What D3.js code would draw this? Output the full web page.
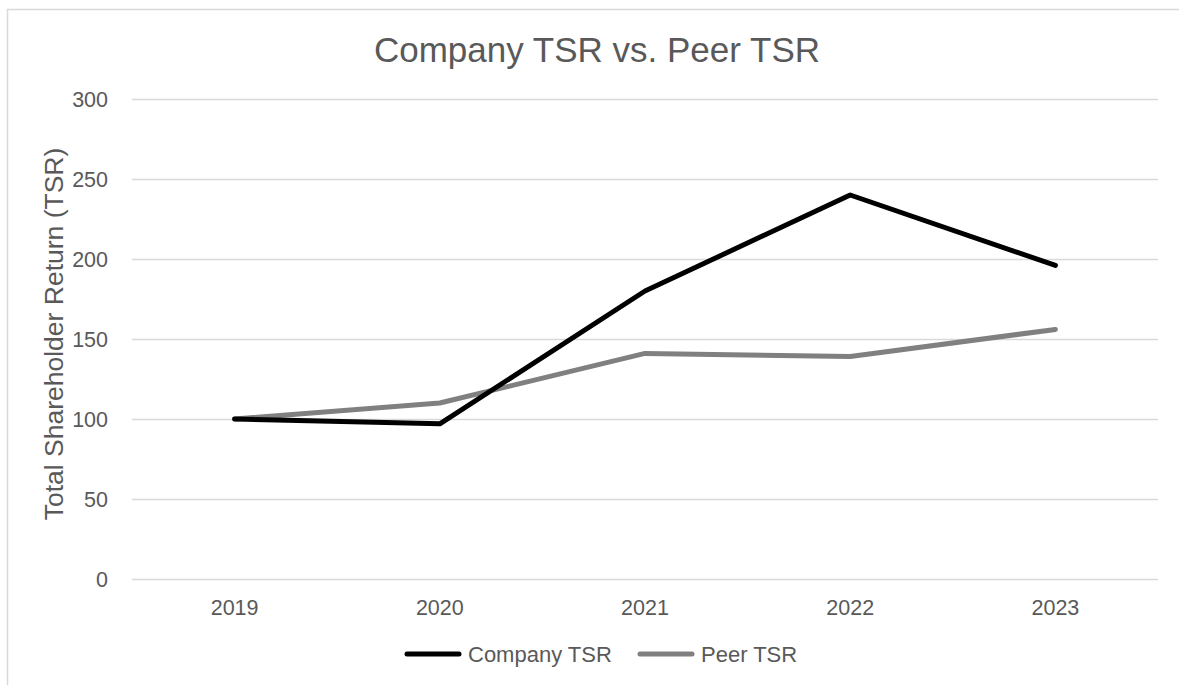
<!DOCTYPE html>
<html>
<head>
<meta charset="utf-8">
<script src="https://cdn.jsdelivr.net/npm/d3@7"></script>
<style>
  body { margin: 0; background: #fff; }
  text { font-family: "Liberation Sans", Arial, sans-serif; fill: #595959; }
</style>
</head>
<body>
<div class="chart"></div>
<script>
var years = ["2019", "2020", "2021", "2022", "2023"];
var companyTSR = [100, 97, 180, 240, 196];
var peerTSR = [100, 110, 141, 139, 156];
var yTicks = [0, 50, 100, 150, 200, 250, 300];

var width = 1179,
    height = 685;

var margin = {top: 99, right: 21, bottom: 106, left: 132};

var svg = d3.select(".chart").append("svg")
    .attr("width", width)
    .attr("height", height);

// outer chart border (cropped on right/bottom like the reference)
svg.append("rect")
    .attr("x", 7.5).attr("y", 9.5)
    .attr("width", 1200).attr("height", 700)
    .attr("fill", "none")
    .attr("stroke", "#d9d9d9")
    .attr("stroke-width", 1.5);

var x = d3.scaleBand()
    .domain(years)
    .range([margin.left, width - margin.right]);

var y = d3.scaleLinear()
    .domain([0, 300])
    .range([height - margin.bottom, margin.top]);

// gridlines
svg.append("g")
    .attr("transform", "translate(" + margin.left + ",0)")
    .call(d3.axisLeft(y).tickValues(yTicks)
        .tickSize(-(width - margin.left - margin.right))
        .tickFormat(""))
    .call(function(g) {
      g.select(".domain").remove();
      g.selectAll("line").attr("stroke", "#d9d9d9").attr("stroke-width", 1.3);
    });

// y tick labels
svg.append("g")
    .attr("transform", "translate(" + (margin.left - 21) + ",0)")
    .call(d3.axisLeft(y).tickValues(yTicks).tickSize(0))
    .call(function(g) {
      g.select(".domain").remove();
      g.selectAll("text").attr("font-size", "21.5px").attr("dy", "0.35em");
    });

// x tick labels
svg.append("g")
    .attr("transform", "translate(0," + (height - margin.bottom) + ")")
    .call(d3.axisBottom(x).tickSize(0))
    .call(function(g) {
      g.select(".domain").remove();
      g.selectAll("text").attr("font-size", "21.5px").attr("y", 36).attr("dy", 0);
    });

var line = d3.line()
    .x(function(d, i) { return x(years[i]) + x.bandwidth() / 2; })
    .y(function(d) { return y(d); });

svg.append("path")
    .datum(peerTSR)
    .attr("d", line)
    .attr("fill", "none")
    .attr("stroke", "#808080")
    .attr("stroke-width", 5)
    .attr("stroke-linejoin", "round")
    .attr("stroke-linecap", "round");

svg.append("path")
    .datum(companyTSR)
    .attr("d", line)
    .attr("fill", "none")
    .attr("stroke", "#000000")
    .attr("stroke-width", 5)
    .attr("stroke-linejoin", "round")
    .attr("stroke-linecap", "round");

// title
svg.append("text")
    .attr("x", 597).attr("y", 62)
    .attr("text-anchor", "middle")
    .attr("font-size", "35px")
    .text("Company TSR vs. Peer TSR");

// y axis label
svg.append("text")
    .attr("transform", "translate(63,334) rotate(-90)")
    .attr("text-anchor", "middle")
    .attr("font-size", "26.5px")
    .text("Total Shareholder Return (TSR)");

// legend
var legendItems = [
  {name: "Company TSR", color: "#000000", x: 407},
  {name: "Peer TSR", color: "#808080", x: 640}
];
var lg = svg.selectAll(".legend")
    .data(legendItems)
    .enter().append("g")
    .attr("class", "legend")
    .attr("transform", function(d) { return "translate(" + d.x + ",654)"; });

lg.append("line")
    .attr("x1", 0).attr("x2", 52)
    .attr("stroke", function(d) { return d.color; })
    .attr("stroke-width", 5)
    .attr("stroke-linecap", "round");

lg.append("text")
    .attr("x", 61).attr("y", 8)
    .attr("font-size", "22px")
    .text(function(d) { return d.name; });
</script>
</body>
</html>
